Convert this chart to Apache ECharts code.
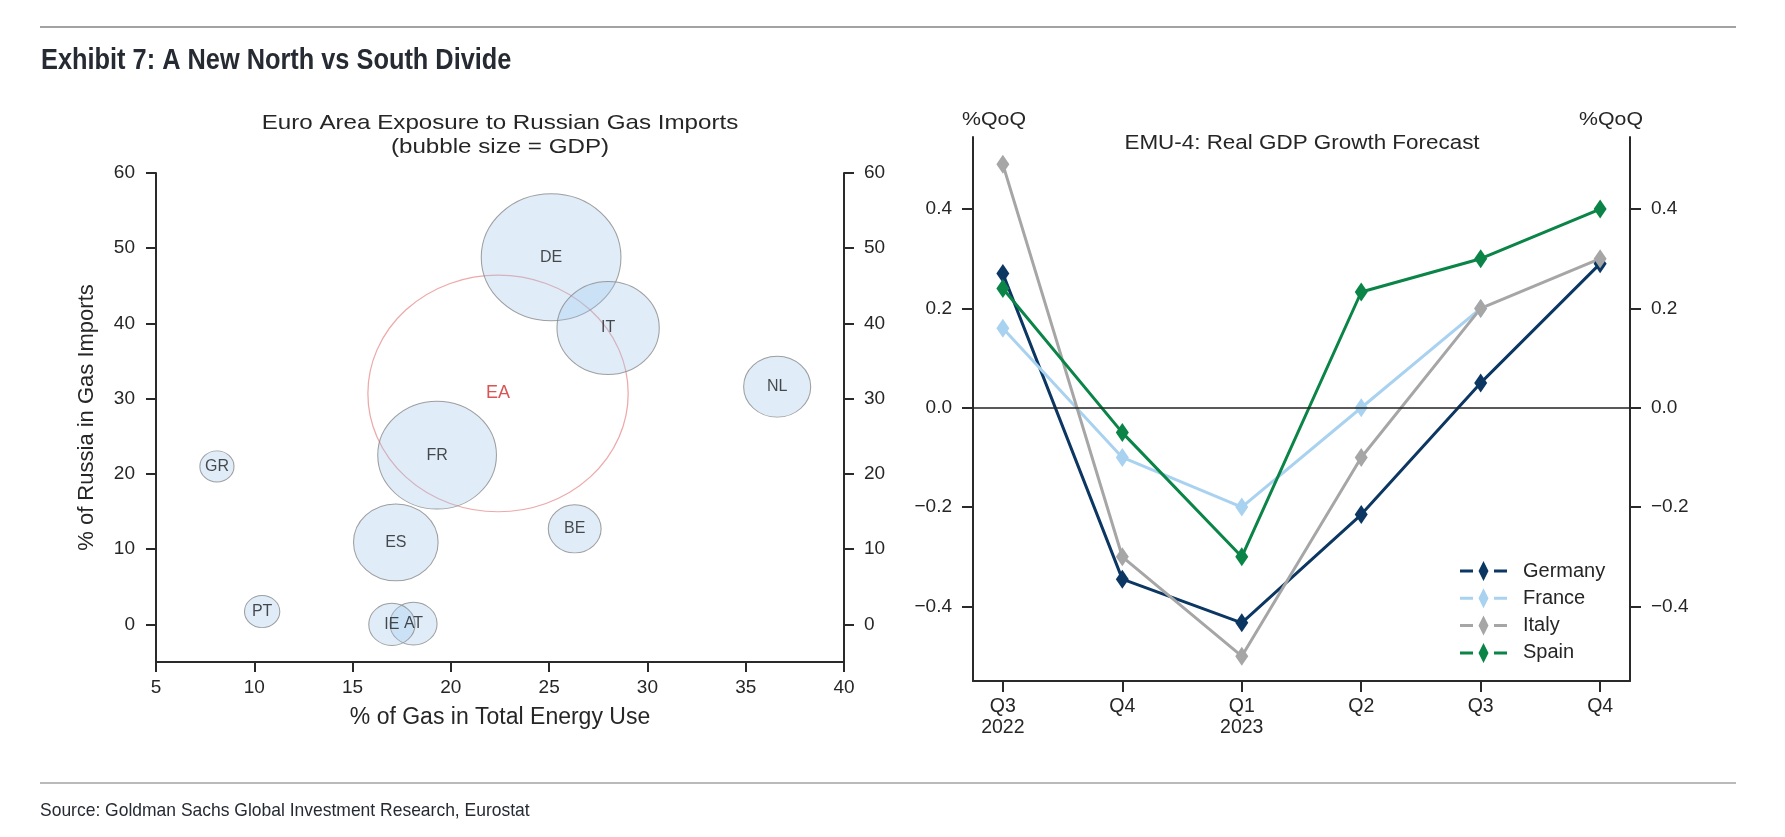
<!DOCTYPE html>
<html>
<head>
<meta charset="utf-8">
<script src="https://cdn.jsdelivr.net/npm/echarts@6/dist/echarts.min.js"></script>
<style>
html,body{margin:0;padding:0;background:#fff;}
#c{width:1785px;height:837px;}
</style>
</head>
<body>
<div id="c"></div>
<script>
// ---- Left chart data: Euro Area exposure to Russian gas imports ----
const countries   = ['DE', 'IT', 'FR', 'ES', 'NL', 'BE', 'AT', 'IE', 'PT', 'GR'];
const gasShare    = [25.1, 28.0, 19.3, 17.2, 36.6, 26.3, 18.1, 17.0, 10.4, 8.1];   // % of gas in total energy use
const russiaShare = [48.8, 39.4, 22.5, 10.9, 31.6, 12.7, 0.1, 0.0, 1.7, 21.0];   // % of Russia in gas imports
const gdp         = [3600, 1930, 2600, 1320, 830, 515, 410, 395, 230, 215];      // bubble size = GDP (EUR bn)
const eaName = 'EA';
const eaGas = 22.4;
const eaRussia = 30.7;
const eaGdp = 12500;
const xTicksLeft = [5, 10, 15, 20, 25, 30, 35, 40];
const yTicksLeft = [0, 10, 20, 30, 40, 50, 60];

// ---- Right chart data: EMU-4 real GDP growth forecast (%QoQ) ----
const quarters = ['Q3\n2022', 'Q4', 'Q1\n2023', 'Q2', 'Q3', 'Q4'];
const germany = [0.27, -0.345, -0.433, -0.215, 0.05, 0.29];
const france  = [0.16, -0.10, -0.20, 0.00, 0.20, null];
const italy   = [0.49, -0.30, -0.50, -0.10, 0.20, 0.30];
const spain   = [0.24, -0.05, -0.30, 0.233, 0.30, 0.40];
const yTicksRight = [-0.4, -0.2, 0, 0.2, 0.4];

const FONT = '"Liberation Sans", Arial, Helvetica, sans-serif';
const AX = '#2a2a2a';
const TXT = '#262626';

const K = 127 / 60;      // px per sqrt(GDP)
const ASPECT = 1.1;      // bubbles are slightly wider than tall in the reference
function bubbleSize(v) { const d = K * Math.sqrt(v[2]); return [d * ASPECT, d]; }

const bubbleData = countries.map((c, i) => [gasShare[i], russiaShare[i], gdp[i], c]);
const eaData = [[eaGas, eaRussia, eaGdp, eaName]];

function toPairs(arr) { return arr.map((v, i) => [i, v]).filter(d => d[1] !== null); }
function fmtRight(v) { const a = Math.abs(v).toFixed(1); return (v < -1e-9 ? '\u2212' : '') + a; }

const legendIcon = 'path://M0,8.5L13,8.5L13,11.5L0,11.5Z M34,8.5L47,8.5L47,11.5L34,11.5Z M23.5,0L28.5,10L23.5,20L18.5,10Z';

const lineColors = { Germany: '#0c3763', France: '#a8d2f0', Italy: '#a6a6a6', Spain: '#0a8447' };

function lineSeries(name, arr) {
  return {
    name: name, type: 'line', xAxisIndex: 1, yAxisIndex: 2,
    data: toPairs(arr),
    symbol: 'diamond', symbolSize: [13, 19],
    lineStyle: { width: 3, color: lineColors[name] },
    itemStyle: { color: lineColors[name] },
    emphasis: { disabled: true },
    z: 3
  };
}

function txt(x, y, text, size, sx, extra) {
  return Object.assign({
    type: 'text', x: x, y: y, scaleX: sx, silent: true,
    style: Object.assign({ text: text, fontFamily: FONT, fontSize: size, fill: TXT, align: 'center', verticalAlign: 'middle' }, extra || {})
  });
}

const leftAxisCommon = {
  axisLine: { show: true, onZero: false, lineStyle: { color: AX, width: 2 } },
  axisTick: { show: true, inside: false, length: 10, lineStyle: { color: AX, width: 2 } },
  splitLine: { show: false },
  axisLabel: { color: TXT, fontSize: 19, fontFamily: FONT }
};

const chart = echarts.init(document.getElementById('c'));
const option = {
  animation: false,
  backgroundColor: '#fff',
  textStyle: { fontFamily: FONT },
  graphic: [
    { type: 'line', silent: true, shape: { x1: 40, y1: 27, x2: 1736, y2: 27 }, style: { stroke: '#a3a3a3', lineWidth: 2 } },
    { type: 'line', silent: true, shape: { x1: 40, y1: 783, x2: 1736, y2: 783 }, style: { stroke: '#a3a3a3', lineWidth: 1.5 } },
    txt(41, 61, 'Exhibit 7: A New North vs South Divide', 30, 0.845, { fontWeight: 'bold', fill: '#262a33', align: 'left' }),
    txt(40, 811, 'Source: Goldman Sachs Global Investment Research, Eurostat', 19, 0.92, { fill: '#262a33', align: 'left' }),
    txt(500, 123, 'Euro Area Exposure to Russian Gas Imports', 21, 1.15),
    txt(500, 147, '(bubble size = GDP)', 21, 1.15),
    txt(1302, 144, 'EMU-4: Real GDP Growth Forecast', 19.5, 1.15),
    txt(994, 120, '%QoQ', 19, 1.12),
    txt(1611, 120, '%QoQ', 19, 1.12)
  ],
  grid: [
    { left: 156, top: 173, width: 688, height: 489 },
    { left: 973, top: 137, width: 657, height: 544 }
  ],
  legend: {
    data: ['Germany', 'France', 'Italy', 'Spain'],
    orient: 'vertical',
    left: 1455, top: 556,
    itemWidth: 47, itemHeight: 20, itemGap: 7.3,
    icon: legendIcon,
    itemStyle: { borderWidth: 0 },
    textStyle: { fontSize: 20, color: TXT, fontFamily: FONT, padding: [0, 0, 0, 11] },
    selectedMode: false
  },
  xAxis: [
    Object.assign({}, leftAxisCommon, {
      gridIndex: 0, type: 'value', min: 5, max: 40, interval: 5,
      name: '% of Gas in Total Energy Use', nameLocation: 'middle', nameGap: 44,
      nameTextStyle: { fontSize: 23, color: TXT, fontFamily: FONT },
      axisLabel: { color: TXT, fontSize: 19, fontFamily: FONT, margin: 16, customValues: xTicksLeft },
      axisTick: { show: true, length: 10, lineStyle: { color: AX, width: 2 }, customValues: xTicksLeft }
    }),
    {
      gridIndex: 1, type: 'value', min: -0.25, max: 5.25,
      axisLine: { show: true, onZero: false, lineStyle: { color: AX, width: 2 } },
      axisTick: { show: true, length: 11, lineStyle: { color: AX, width: 2 }, customValues: [0, 1, 2, 3, 4, 5] },
      splitLine: { show: false },
      axisLabel: { color: TXT, fontSize: 19.5, fontFamily: FONT, margin: 15, lineHeight: 21,
        customValues: [0, 1, 2, 3, 4, 5], formatter: v => quarters[Math.round(v)] }
    }
  ],
  yAxis: [
    Object.assign({}, leftAxisCommon, {
      gridIndex: 0, type: 'value', position: 'left', min: -5, max: 60,
      name: '% of Russia in Gas Imports', nameLocation: 'middle', nameGap: 58,
      nameTextStyle: { fontSize: 22, color: TXT, fontFamily: FONT },
      axisLabel: { color: TXT, fontSize: 19, fontFamily: FONT, margin: 21, customValues: yTicksLeft },
      axisTick: { show: true, length: 10, lineStyle: { color: AX, width: 2 }, customValues: yTicksLeft }
    }),
    Object.assign({}, leftAxisCommon, {
      gridIndex: 0, type: 'value', position: 'right', min: -5, max: 60,
      axisLabel: { color: TXT, fontSize: 19, fontFamily: FONT, margin: 20, customValues: yTicksLeft },
      axisTick: { show: true, length: 10, lineStyle: { color: AX, width: 2 }, customValues: yTicksLeft }
    }),
    {
      gridIndex: 1, type: 'value', position: 'left', min: -0.55, max: 0.545,
      axisLine: { show: true, onZero: false, lineStyle: { color: AX, width: 2 } },
      axisTick: { show: true, length: 11, lineStyle: { color: AX, width: 2 }, customValues: yTicksRight },
      splitLine: { show: false },
      axisLabel: { color: TXT, fontSize: 19, fontFamily: FONT, margin: 21, customValues: yTicksRight, formatter: fmtRight }
    },
    {
      gridIndex: 1, type: 'value', position: 'right', min: -0.55, max: 0.545,
      axisLine: { show: true, onZero: false, lineStyle: { color: AX, width: 2 } },
      axisTick: { show: true, length: 11, lineStyle: { color: AX, width: 2 }, customValues: yTicksRight },
      splitLine: { show: false },
      axisLabel: { color: TXT, fontSize: 19, fontFamily: FONT, margin: 21, customValues: yTicksRight, formatter: fmtRight }
    }
  ],
  series: [
    {
      name: 'EA', type: 'scatter', xAxisIndex: 0, yAxisIndex: 0,
      data: eaData, symbol: 'circle', symbolSize: bubbleSize,
      itemStyle: { color: 'rgba(255,255,255,0)', borderColor: '#e99393', borderWidth: 1.2 },
      label: { show: true, position: 'inside', formatter: p => p.data[3], color: '#cf2b2b', fontSize: 18, fontFamily: FONT },
      emphasis: { disabled: true }, z: 1
    },
    {
      name: 'Countries', type: 'scatter', xAxisIndex: 0, yAxisIndex: 0,
      data: bubbleData, symbol: 'circle', symbolSize: bubbleSize,
      itemStyle: { color: 'rgba(160,200,236,0.4)', borderColor: '#888', borderWidth: 1 },
      label: { show: true, position: 'inside', formatter: p => p.data[3], color: '#1e1e1e', fontSize: 16, fontFamily: FONT },
      emphasis: { disabled: true }, z: 2
    },
    Object.assign(lineSeries('Germany', germany), {
      markLine: {
        silent: true, symbol: 'none', label: { show: false },
        lineStyle: { color: '#222', width: 1.5, type: 'solid' },
        data: [{ yAxis: 0 }]
      }
    }),
    lineSeries('France', france),
    lineSeries('Italy', italy),
    lineSeries('Spain', spain)
  ]
};
chart.setOption(option);
</script>
</body>
</html>
